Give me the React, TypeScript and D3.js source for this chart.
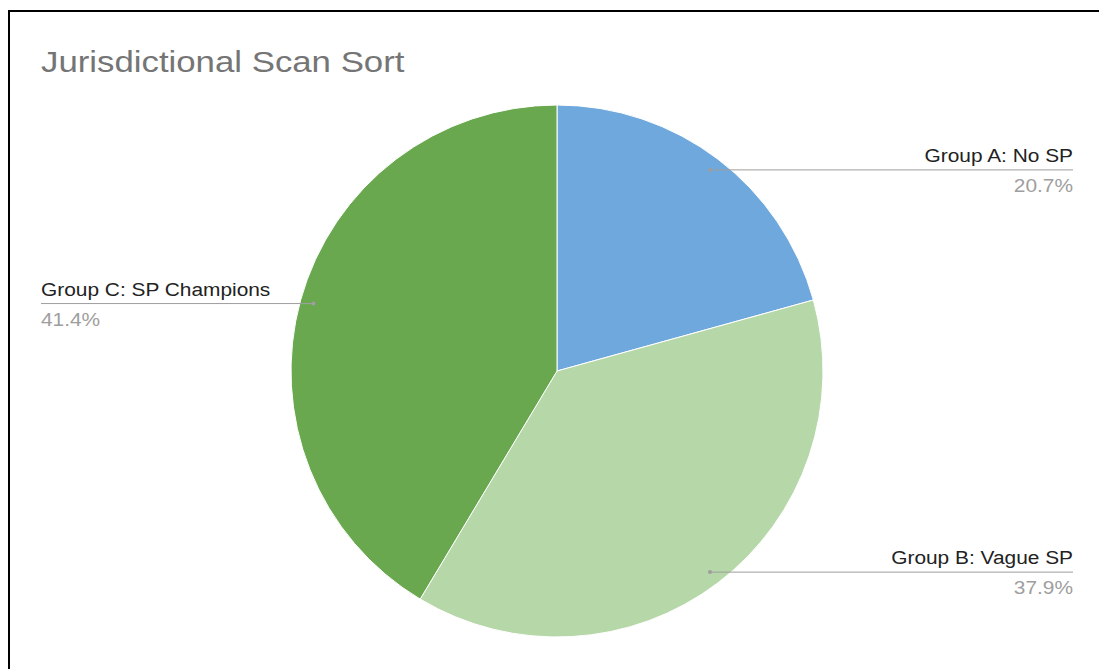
import React from "react";
import * as d3 from "d3";

const categories = ["Group A: No SP", "Group B: Vague SP", "Group C: SP Champions"];
const values = [20.7, 37.9, 41.4];
const colors = ["#6fa8dc", "#b6d7a8", "#6aa84f"];
const title = "Jurisdictional Scan Sort";

const W = 1099;
const H = 669;
const cx = 557;
const cy = 371;
const R = 266;
const FONT = "Arial, 'Liberation Sans', Helvetica, sans-serif";
const STRETCH = 1.16;

// Text drawn with a slight horizontal widening around its anchor point
function WideText(props: {
  x: number;
  y: number;
  anchor?: "start" | "end";
  size: number;
  fill: string;
  children: React.ReactNode;
}) {
  const { x, y, anchor = "start", size, fill, children } = props;
  return (
    <g transform={`translate(${x},${y}) scale(${STRETCH},1)`}>
      <text x={0} y={0} textAnchor={anchor} fontFamily={FONT} fontSize={size} fill={fill}>
        {children}
      </text>
    </g>
  );
}

export default function App() {
  const pie = d3.pie<number>().sort(null).value((d) => d);
  const arcs = pie(values);
  const arc = d3.arc<d3.PieArcDatum<number>>().innerRadius(0).outerRadius(R);
  const anchorArc = d3.arc<d3.PieArcDatum<number>>().innerRadius(R * 0.95).outerRadius(R * 0.95);
  const total = d3.sum(values);
  const fmt = (v: number) => `${((v / total) * 100).toFixed(1)}%`;

  return (
    <svg
      width={W}
      height={H}
      style={{ position: "fixed", left: 0, top: 0, display: "block", background: "#fff" }}
    >
      <rect x={9} y={11} width={W + 20} height={H + 20} fill="#fff" stroke="#000" strokeWidth={2} />
      <WideText x={41} y={72} size={30} fill="#757575">
        {title}
      </WideText>
      <g transform={`translate(${cx},${cy})`}>
        {arcs.map((a, i) => (
          <path key={i} d={arc(a) || ""} fill={colors[i]} stroke="#fff" strokeWidth={1} />
        ))}
      </g>
      {arcs.map((a, i) => {
        const [ax, ay] = anchorArc.centroid(a);
        const px = cx + ax;
        const py = cy + ay;
        const right = (a.startAngle + a.endAngle) / 2 < Math.PI;
        const edge = right ? 1073 : 41;
        const anchor = right ? "end" : "start";
        return (
          <g key={i}>
            <line x1={px} y1={py} x2={edge} y2={py} stroke="#9e9e9e" strokeWidth={1} />
            <circle cx={px} cy={py} r={2} fill="#9e9e9e" />
            <WideText x={edge} y={py - 8} anchor={anchor} size={18} fill="#222">
              {categories[i]}
            </WideText>
            <WideText x={edge} y={py + 22} anchor={anchor} size={18} fill="#9e9e9e">
              {fmt(values[i])}
            </WideText>
          </g>
        );
      })}
    </svg>
  );
}
